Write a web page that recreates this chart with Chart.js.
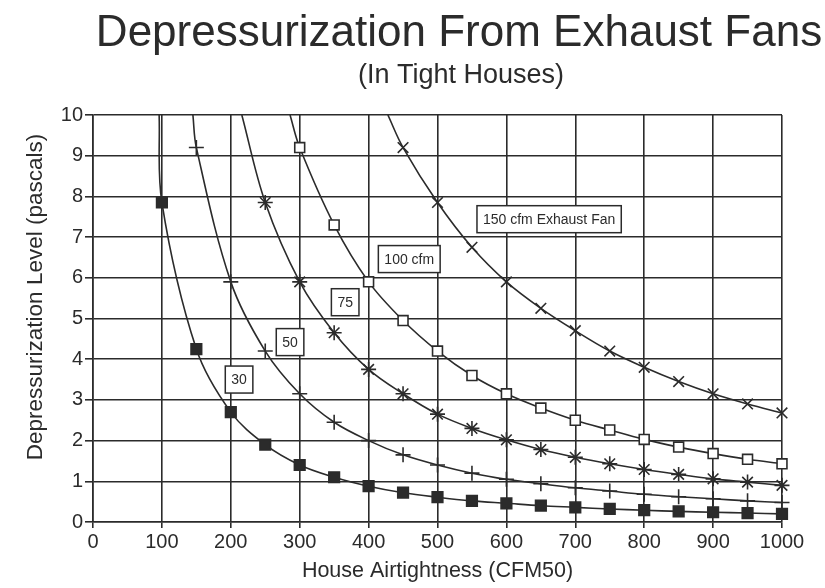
<!DOCTYPE html>
<html>
<head>
<meta charset="utf-8">
<script src="https://cdn.jsdelivr.net/npm/chart.js@4"></script>
<style>
  html, body { margin: 0; padding: 0; background: #fff; }
  #wrap { width: 825px; height: 588px; }
</style>
</head>
<body>
<div id="wrap"><canvas id="chart" width="825" height="588"></canvas></div>
<script>
// house airtightness (CFM50), one marker every 50
const airtightness = [100, 150, 200, 250, 300, 350, 400, 450, 500, 550, 600, 650, 700, 750, 800, 850, 900, 950, 1000];

// depressurization (pascals), null = off the top of the chart
const fan30  = [7.85, 4.25, 2.7, 1.9, 1.4, 1.1, 0.88, 0.72, 0.61, 0.52, 0.46, 0.4, 0.36, 0.32, 0.29, 0.26, 0.24, 0.22, 0.2];
const fan50  = [null, 9.2, 5.9, 4.2, 3.15, 2.45, 2.0, 1.65, 1.4, 1.2, 1.05, 0.94, 0.84, 0.76, 0.68, 0.62, 0.57, 0.52, 0.48];
const fan75  = [null, null, null, 7.85, 5.9, 4.65, 3.75, 3.15, 2.65, 2.3, 2.02, 1.78, 1.59, 1.43, 1.29, 1.17, 1.06, 0.98, 0.9];
const fan100 = [null, null, null, null, 9.2, 7.3, 5.9, 4.95, 4.2, 3.6, 3.15, 2.8, 2.5, 2.26, 2.03, 1.84, 1.68, 1.54, 1.43];
const fan150 = [null, null, null, null, null, null, null, 9.2, 7.85, 6.75, 5.9, 5.25, 4.7, 4.2, 3.8, 3.45, 3.15, 2.9, 2.68];

// where each curve leaves the top of the chart (x at 10 pascals)
const topCrossX = [96, 145, 216, 286, 428];

const seriesLabels = ['30', '50', '75', '100 cfm', '150 cfm Exhaust Fan'];
const xTicks = [0, 100, 200, 300, 400, 500, 600, 700, 800, 900, 1000];
const yTicks = [0, 1, 2, 3, 4, 5, 6, 7, 8, 9, 10];

const ink = '#2b2b2b';
const FONT = '"Liberation Sans", Arial, sans-serif';

function buildPoints(values, crossX) {
  const pts = [{ x: crossX, y: 10, edge: true }];
  values.forEach((v, i) => {
    if (v !== null) pts.push({ x: airtightness[i], y: v });
  });
  return pts;
}

function series(label, values, crossX, style, fill, size) {
  return {
    label: label,
    data: buildPoints(values, crossX),
    borderColor: ink,
    borderWidth: 1.6,
    tension: 0.35,
    pointStyle: style,
    pointRadius: (ctx) => (ctx.raw && ctx.raw.edge ? 0 : size),
    pointBackgroundColor: fill,
    pointBorderColor: ink,
    pointBorderWidth: 1.6,
    clip: { left: 0, top: 0, right: 12, bottom: 12 }
  };
}

// boxed curve labels, in data units
const boxLabels = [
  { text: '30', x: 212, y: 3.5 },
  { text: '50', x: 286, y: 4.42 },
  { text: '75', x: 366, y: 5.4 },
  { text: '100 cfm', x: 459, y: 6.46 },
  { text: '150 cfm Exhaust Fan', x: 662, y: 7.44 }
];

const titlesPlugin = {
  id: 'titles',
  afterDraw(chart) {
    const { ctx } = chart;
    ctx.save();
    ctx.fillStyle = ink;
    ctx.textAlign = 'center';
    ctx.textBaseline = 'alphabetic';
    ctx.font = '44px ' + FONT;
    ctx.fillText('Depressurization From Exhaust Fans', 459, 46);
    ctx.font = '27px ' + FONT;
    ctx.fillText('(In Tight Houses)', 461, 83);
    // y axis title
    ctx.translate(36, 297);
    ctx.rotate(-Math.PI / 2);
    ctx.textBaseline = 'middle';
    ctx.font = '22.5px ' + FONT;
    ctx.fillText('Depressurization Level (pascals)', 0, 0);
    ctx.restore();
  }
};

const boxPlugin = {
  id: 'boxLabels',
  afterDatasetsDraw(chart) {
    const { ctx, scales } = chart;
    ctx.save();
    ctx.font = '14px ' + FONT;
    ctx.textAlign = 'center';
    ctx.textBaseline = 'middle';
    boxLabels.forEach((b) => {
      const cx = scales.x.getPixelForValue(b.x);
      const cy = scales.y.getPixelForValue(b.y);
      const w = ctx.measureText(b.text).width + 12;
      const h = 27;
      ctx.fillStyle = '#fff';
      ctx.fillRect(cx - w / 2, cy - h / 2, w, h);
      ctx.strokeStyle = ink;
      ctx.lineWidth = 1.5;
      ctx.strokeRect(cx - w / 2, cy - h / 2, w, h);
      ctx.fillStyle = ink;
      ctx.fillText(b.text, cx, cy + 1);
    });
    ctx.restore();
  }
};

new Chart(document.getElementById('chart'), {
  type: 'line',
  data: {
    datasets: [
      series(seriesLabels[0], fan30, topCrossX[0], 'rect', ink, 7.5),
      series(seriesLabels[1], fan50, topCrossX[1], 'cross', ink, 7.5),
      series(seriesLabels[2], fan75, topCrossX[2], 'star', ink, 7.5),
      series(seriesLabels[3], fan100, topCrossX[3], 'rect', '#fff', 7),
      series(seriesLabels[4], fan150, topCrossX[4], 'crossRot', ink, 7.5)
    ]
  },
  options: {
    responsive: false,
    animation: false,
    layout: { padding: { top: 115, right: 43, left: 10, bottom: 4 } },
    plugins: {
      legend: { display: false },
      tooltip: { enabled: false }
    },
    scales: {
      x: {
        type: 'linear',
        min: 0,
        max: 1000,
        afterBuildTicks: (axis) => { axis.ticks = xTicks.map((v) => ({ value: v })); },
        afterFit: (axis) => { axis.height = 62; },
        ticks: {
          color: ink,
          font: { family: FONT, size: 20 },
          padding: 2,
          maxRotation: 0,
          callback: (v) => String(v)
        },
        grid: { color: ink, lineWidth: 1.6, tickLength: 6 },
        border: { color: ink, width: 1.6 },
        title: {
          display: true,
          text: 'House Airtightness (CFM50)',
          color: ink,
          font: { family: FONT, size: 21.5 },
          padding: { top: 0, bottom: 0 }
        }
      },
      y: {
        min: 0,
        max: 10,
        afterBuildTicks: (axis) => { axis.ticks = yTicks.map((v) => ({ value: v })); },
        afterFit: (axis) => { axis.width = 83; },
        ticks: {
          color: ink,
          font: { family: FONT, size: 20 },
          padding: 2,
          callback: (v) => String(v)
        },
        grid: { color: ink, lineWidth: 1.6, tickLength: 8 },
        border: { color: ink, width: 1.6 }
      }
    }
  },
  plugins: [boxPlugin, titlesPlugin]
});
</script>
</body>
</html>
